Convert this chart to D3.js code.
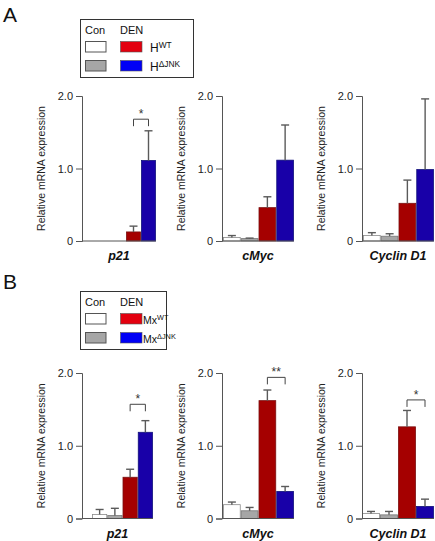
<!DOCTYPE html>
<html><head><meta charset="utf-8">
<script src="https://cdn.jsdelivr.net/npm/d3@7"></script>
<style>
body{margin:0;background:#fff;}
svg text{font-family:"Liberation Sans",Arial,Helvetica,sans-serif;}
</style></head>
<body><svg id="c" width="435" height="541"></svg>
<script>
const genes = ["p21", "cMyc", "Cyclin D1"];
const groups = ["Con WT", "Con dJNK", "DEN WT", "DEN dJNK"];
const tickVals = [0, 1, 2];
const tickLabels = ["0", "1.0", "2.0"];
const yTitle = "Relative mRNA expression";

// Panel A (hepatocyte) means and upper error (SD)
const meanA_p21  = [0, 0, 0.125, 1.11];
const errA_p21   = [0, 0, 0.08, 0.41];
const meanA_cMyc = [0.047, 0.033, 0.46, 1.115];
const errA_cMyc  = [0.028, 0.007, 0.15, 0.485];
const meanA_ccnd = [0.075, 0.066, 0.52, 0.985];
const errA_ccnd  = [0.04, 0.034, 0.32, 0.975];
// Panel B (Mx) means and upper error
const meanB_p21  = [0.055, 0.04, 0.567, 1.185];
const errB_p21   = [0.069, 0.10, 0.11, 0.16];
const meanB_cMyc = [0.19, 0.106, 1.62, 0.372];
const errB_cMyc  = [0.036, 0.046, 0.146, 0.068];
const meanB_ccnd = [0.069, 0.05, 1.26, 0.166];
const errB_ccnd  = [0.028, 0.047, 0.225, 0.10];
// significance brackets between DEN WT and DEN dJNK: [label, y value]
const sigA = [["*", 1.68], null, null];
const sigB = [["*", 1.57], ["**", 1.94], ["*", 1.63]];

const barFill = ["#ffffff", "#a6a6a6", "#a50000", "#1800a8"];
const barStroke = ["#8a8a8a", "#777777", "#7a1010", "#10107a"];
const legFill = ["#ffffff", "#a6a6a6", "#e3000f", "#0000f5"];

const svg = d3.select("#c");

const panels = [
  {label:"A", labelY:22, top:96, base:241, legend:{x:80,y:19,w:113,h:58, name:"H", fs:12, tx:150},
   charts:[{ax:82, x0:96, x1:156, m:meanA_p21, e:errA_p21, s:sigA[0]},
           {ax:222, x0:223, x1:294, m:meanA_cMyc, e:errA_cMyc, s:sigA[1]},
           {ax:362, x0:363, x1:434, m:meanA_ccnd, e:errA_ccnd, s:sigA[2]}]},
  {label:"B", labelY:289, top:373, base:518.5, legend:{x:80,y:291,w:86,h:58, name:"Mx", fs:10.5, tx:143},
   charts:[{ax:82, x0:92, x1:153, m:meanB_p21, e:errB_p21, s:sigB[0]},
           {ax:222, x0:223, x1:294, m:meanB_cMyc, e:errB_cMyc, s:sigB[1]},
           {ax:362, x0:362, x1:434, m:meanB_ccnd, e:errB_ccnd, s:sigB[2]}]}
];

panels.forEach(p => {
  svg.append("text").attr("x", 3).attr("y", p.labelY).attr("font-size", 21)
    .attr("fill", "#111").text(p.label);

  const L = p.legend;
  const lg = svg.append("g");
  lg.append("rect").attr("x", L.x + 0.5).attr("y", L.y + 0.5).attr("width", L.w).attr("height", L.h)
    .attr("fill", "#fff").attr("stroke", "#333").attr("stroke-width", 1);
  lg.append("text").attr("x", 85).attr("y", L.y + 15).attr("font-size", 11).attr("fill", "#111").text("Con");
  lg.append("text").attr("x", 120).attr("y", L.y + 15).attr("font-size", 11).attr("fill", "#111").text("DEN");
  const rows = [L.y + 22, L.y + 41];
  [[0, 2, "WT"], [1, 3, "\u0394JNK"]].forEach((r, i) => {
    lg.append("rect").attr("x", 85.5).attr("y", rows[i] + 0.5).attr("width", 20.5).attr("height", 10.5)
      .attr("fill", legFill[r[0]]).attr("stroke", "#555").attr("stroke-width", 1);
    lg.append("rect").attr("x", 120.5).attr("y", rows[i] + 0.5).attr("width", 21.5).attr("height", 10.5)
      .attr("fill", legFill[r[1]]).attr("stroke", "#555").attr("stroke-width", 0.6);
    const t = lg.append("text").attr("x", L.tx).attr("y", rows[i] + 11).attr("font-size", L.fs).attr("fill", "#111");
    t.append("tspan").text(L.name);
    t.append("tspan").attr("dy", -4.5).attr("font-size", L.fs * 0.7).text(r[2]);
  });

  const y = d3.scaleLinear().domain([0, 2]).range([p.base, p.top]);

  p.charts.forEach((c, gi) => {
    const g = svg.append("g");
    const x = d3.scaleBand().domain(groups).range([c.x0, c.x1]).padding(0);
    groups.forEach((grp, i) => {
      if (c.m[i] <= 0) return;
      g.append("rect").attr("x", x(grp) + 0.5).attr("width", x.bandwidth() - 1)
        .attr("y", y(c.m[i])).attr("height", y(0) - y(c.m[i]))
        .attr("fill", barFill[i]).attr("stroke", barStroke[i]).attr("stroke-width", 0.8);
      const cx = x(grp) + x.bandwidth() / 2;
      const ytop = y(c.m[i] + c.e[i]);
      g.append("line").attr("x1", cx).attr("x2", cx).attr("y1", y(c.m[i])).attr("y2", ytop)
        .attr("stroke", "#5a5a5a").attr("stroke-width", 1.4);
      g.append("line").attr("x1", cx - 4).attr("x2", cx + 4).attr("y1", ytop).attr("y2", ytop)
        .attr("stroke", "#5a5a5a").attr("stroke-width", 1.4);
    });
    g.append("line").attr("x1", c.ax).attr("x2", c.x1).attr("y1", p.base).attr("y2", p.base)
      .attr("stroke", "#555").attr("stroke-width", 1);
    const axis = d3.axisLeft(y).tickValues(tickVals).tickFormat((d, i) => tickLabels[i])
      .tickSizeOuter(0).tickSize(6).tickPadding(3);
    const ag = g.append("g").attr("transform", `translate(${c.ax},0)`).call(axis);
    ag.select(".domain").attr("stroke", "#555");
    ag.selectAll(".tick line").attr("stroke", "#555");
    ag.selectAll(".tick text").attr("font-size", 11).attr("fill", "#222")
      .style("font-family", "'Liberation Sans',Arial,sans-serif");
    g.append("text").attr("transform", `translate(${c.ax - 41},${(p.base + p.top) / 2}) rotate(-90)`)
      .attr("text-anchor", "middle").attr("dominant-baseline", "central")
      .attr("font-size", 10.5).attr("fill", "#222").text(yTitle);
    g.append("text").attr("x", (c.ax + c.x1) / 2).attr("y", p.base + 19)
      .attr("text-anchor", "middle").attr("font-size", 12.5).attr("font-weight", "bold")
      .attr("font-style", "italic").attr("fill", "#111").text(genes[gi]);
    if (c.s) {
      const xa = x(groups[2]) + x.bandwidth() / 2, xb = x(groups[3]) + x.bandwidth() / 2;
      const ys = y(c.s[1]);
      g.append("path").attr("d", `M${xa},${ys + 7}V${ys}H${xb}V${ys + 7}`)
        .attr("fill", "none").attr("stroke", "#444").attr("stroke-width", 1);
      g.append("text").attr("x", (xa + xb) / 2).attr("y", ys - 1).attr("text-anchor", "middle")
        .attr("font-size", 12).attr("fill", "#333").text(c.s[0]);
    }
  });
});
</script></body></html>
